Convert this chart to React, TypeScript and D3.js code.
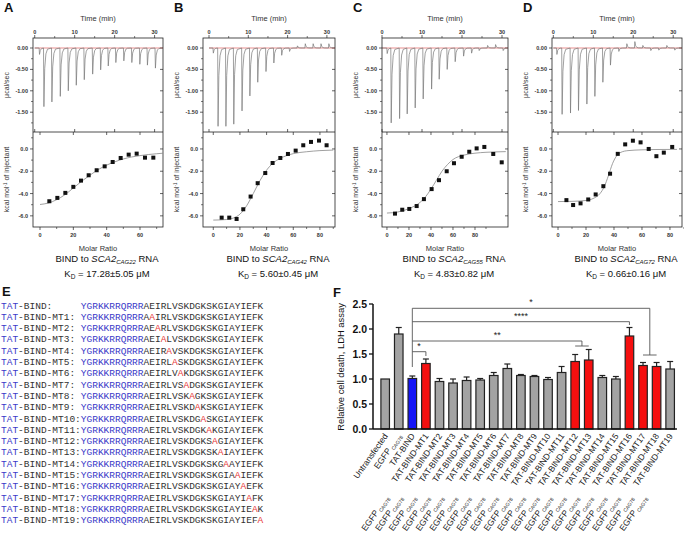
import React from 'react';
import * as d3 from 'd3';

const SANS = '"Liberation Sans", Arial, sans-serif';
const MONO = '"Liberation Mono", "DejaVu Sans Mono", monospace';

// ---------- ITC data (panels A-D) ----------
const panelLetters = ['A', 'B', 'C', 'D'];
const rnaNames = ['CAG22', 'CAG42', 'CAG55', 'CAG72'];
const kdValues = ['17.28±5.05', '5.60±0.45', '4.83±0.82', '0.66±0.16'];

const injTimesA = [1.1, 2.2, 4.2, 6.3, 8.3, 10.3, 12.3, 14.4, 16.4, 18.3, 20.2, 22.2, 24.2, 26.2, 28.1, 30.1];
const injHeatA = [-0.15, -1.37, -1.26, -1.13, -1.0, -0.87, -0.74, -0.61, -0.51, -0.42, -0.34, -0.3, -0.34, -0.38, -0.4, -0.47];
const injTimesB = [1.0, 2.2, 4.2, 6.2, 8.3, 10.3, 12.3, 14.4, 16.4, 18.4, 20.4, 22.4, 24.4, 26.4, 28.4, 30.4];
const injHeatB = [-0.12, -1.83, -1.83, -1.78, -1.47, -1.12, -0.8, -0.55, -0.35, -0.17, -0.08, 0.05, 0.1, 0.1, 0.1, 0.1];
const injTimesC = [1.2, 2.2, 4.3, 6.2, 8.2, 10.2, 12.3, 14.2, 16.2, 18.2, 20.3, 22.3, 24.2, 26.3, 28.3, 30.2];
const injHeatC = [-0.13, -1.75, -1.65, -1.54, -1.4, -1.19, -0.96, -0.73, -0.5, -0.32, -0.19, -0.12, -0.06, 0.06, 0.08, -0.06];
const injTimesD = [0.8, 2.1, 4.2, 6.2, 8.3, 10.3, 12.3, 14.2, 16.3, 18.3, 20.3, 22.3, 24.3, 26.3, 28.3, 30.3];
const injHeatD = [-0.15, -1.55, -1.52, -1.46, -1.31, -1.13, -0.8, -0.4, -0.08, 0.1, 0.15, 0.06, -0.06, -0.05, 0.06, -0.05];

const molarA = [5.6, 10.4, 15.2, 20.0, 24.6, 29.2, 34.0, 38.8, 43.6, 48.4, 53.2, 58, 63, 68];
const dhA = [-4.69, -4.39, -3.94, -3.4, -2.84, -2.36, -1.91, -1.56, -1.17, -0.81, -0.51, -0.42, -0.78, -0.78];
const molarB = [6.3, 12.0, 17.5, 22.5, 28.0, 33.3, 39.0, 44.5, 50.3, 56.0, 61.8, 67.5, 73.3, 79.3, 85];
const dhB = [-6.16, -6.16, -6.28, -5.41, -4.27, -3.07, -2.16, -1.26, -0.81, -0.45, -0.15, 0.33, 0.63, 0.75, 0.33];
const molarC = [7.3, 13.9, 20.3, 27, 33.6, 40.6, 47.3, 54.3, 60.9, 67.9, 74.8, 81.5, 88.5, 96.6, 104.3];
const dhC = [-5.8, -5.45, -5.38, -5.12, -4.5, -3.6, -2.8, -2.0, -1.28, -0.7, -0.25, 0.05, 0.18, -0.45, -1.2];
const molarD = [6.0, 10.8, 16.1, 21.6, 26.9, 32.4, 37.2, 42.7, 48, 53.5, 59, 64.8, 70.3, 75.6, 81.6];
const dhD = [-4.59, -5.03, -4.88, -4.53, -4.08, -3.34, -2.22, -0.44, 0.41, 0.74, 0.59, 0.0, -0.65, -0.33, 0.18];

const fitMolarA = [0, 5, 10, 15, 20, 25, 30, 35, 40, 45, 50, 55, 60, 65, 70, 74];
const fitDhA = [-4.98, -4.85, -4.55, -4.1, -3.5, -2.9, -2.35, -1.85, -1.45, -1.15, -0.9, -0.72, -0.6, -0.5, -0.43, -0.38];
const fitMolarB = [0, 10, 15, 20, 25, 30, 35, 40, 45, 50, 55, 60, 70, 80, 90];
const fitDhB = [-6.38, -6.33, -6.2, -5.85, -5.1, -4.0, -2.85, -1.9, -1.25, -0.85, -0.6, -0.42, -0.25, -0.15, -0.1];
const fitMolarC = [0, 10, 20, 30, 35, 40, 45, 50, 55, 60, 70, 80, 90, 100, 108];
const fitDhC = [-5.75, -5.65, -5.35, -4.8, -4.3, -3.6, -2.8, -2.0, -1.4, -0.95, -0.55, -0.38, -0.3, -0.26, -0.24];
const fitMolarD = [0, 10, 20, 25, 30, 33, 36, 39, 42, 45, 50, 60, 70, 85];
const fitDhD = [-4.72, -4.7, -4.62, -4.45, -4.0, -3.4, -2.4, -1.3, -0.6, -0.3, -0.15, -0.08, -0.05, -0.04];

const injTimes = [injTimesA, injTimesB, injTimesC, injTimesD];
const injHeats = [injHeatA, injHeatB, injHeatC, injHeatD];
const molars = [molarA, molarB, molarC, molarD];
const dhs = [dhA, dhB, dhC, dhD];
const fitMolars = [fitMolarA, fitMolarB, fitMolarC, fitMolarD];
const fitDhs = [fitDhA, fitDhB, fitDhC, fitDhD];

const timeTicks = [0, 10, 20, 30];
const powerTicks = [0, -0.5, -1.0, -1.5];
const powerTickLabels = ['0.00', '-0.50', '-1.00', '-1.50'];
const dhTicks = [0, -2, -4, -6];
const dhTickLabels = ['0.0', '-2.0', '-4.0', '-6.0'];
const molarTicksA = [0, 20, 40, 60];
const molarTicks = [0, 20, 40, 60, 80];

// ---------- Panel E sequences ----------
const seqNames = ['TAT-BIND:', 'TAT-BIND-MT1:', 'TAT-BIND-MT2:', 'TAT-BIND-MT3:', 'TAT-BIND-MT4:', 'TAT-BIND-MT5:', 'TAT-BIND-MT6:', 'TAT-BIND-MT7:', 'TAT-BIND-MT8:', 'TAT-BIND-MT9:', 'TAT-BIND-MT10:', 'TAT-BIND-MT11:', 'TAT-BIND-MT12:', 'TAT-BIND-MT13:', 'TAT-BIND-MT14:', 'TAT-BIND-MT15:', 'TAT-BIND-MT16:', 'TAT-BIND-MT17:', 'TAT-BIND-MT18:', 'TAT-BIND-MT19:'];
const tatSeq = 'YGRKKRRQRRR';
const bindSeq = 'AEIRLVSKDGKSKGIAYIEFK';
const mutIndex = [-1, 1, 2, 3, 4, 5, 6, 7, 8, 9, 10, 11, 12, 13, 14, 16, 17, 18, 19, 20];

// ---------- Panel F bars ----------
const fCats = ['Untransfected', 'EGFP', 'TAT-BIND', 'TAT-BIND-MT1', 'TAT-BIND-MT2', 'TAT-BIND-MT3', 'TAT-BIND-MT4', 'TAT-BIND-MT5', 'TAT-BIND-MT6', 'TAT-BIND-MT7', 'TAT-BIND-MT8', 'TAT-BIND-MT9', 'TAT-BIND-MT10', 'TAT-BIND-MT11', 'TAT-BIND-MT12', 'TAT-BIND-MT13', 'TAT-BIND-MT14', 'TAT-BIND-MT15', 'TAT-BIND-MT16', 'TAT-BIND-MT17', 'TAT-BIND-MT18', 'TAT-BIND-MT19'];
const fValues = [1.0, 1.9, 1.01, 1.31, 0.95, 0.92, 0.97, 0.98, 1.07, 1.21, 1.07, 1.05, 0.99, 1.13, 1.35, 1.38, 1.03, 1.0, 1.86, 1.27, 1.25, 1.2];
const fErrors = [0, 0.13, 0.05, 0.09, 0.06, 0.08, 0.07, 0.03, 0.06, 0.09, 0.02, 0.02, 0.04, 0.12, 0.14, 0.21, 0.04, 0.05, 0.17, 0.06, 0.08, 0.15];
const fGroups = ['g', 'g', 'b', 'r', 'g', 'g', 'g', 'g', 'g', 'g', 'g', 'g', 'g', 'g', 'r', 'r', 'g', 'g', 'r', 'r', 'r', 'g'];
const fTicks = [0, 0.5, 1.0, 1.5, 2.0, 2.5];
const fTickLabels = ['0.0', '0.5', '1.0', '1.5', '2.0', '2.5'];
// significance brackets: targets, bracket level, drop level, label
const sigTargets = [['TAT-BIND-MT1'], ['TAT-BIND-MT12', 'TAT-BIND-MT13'], ['TAT-BIND-MT16'], ['TAT-BIND-MT17', 'TAT-BIND-MT18']];
const sigLevels = [1.546, 1.76, 2.146, 2.414];
const sigDrops = [1.46, 1.66, 2.08, 1.48];
const sigLabels = ['*', '**', '****', '*'];

const LAYOUT = [
  { left: 33, right: 163, tDom: [-0.43, 32.1], mDom: [-4.2, 73.8] },
  { left: 203, right: 335, tDom: [-1.53, 32.06], mDom: [-7.7, 91.3] },
  { left: 382, right: 508, tDom: [0, 31.5], mDom: [-4.5, 110] },
  { left: 552, right: 682, tDom: [-0.33, 32.2], mDom: [-4.3, 88.6] },
];
const TOP0 = 38, MID = 132, BOT = 227;

function ITC({ i }: { i: number }) {
  const L = LAYOUT[i];
  const xT = d3.scaleLinear().domain(L.tDom).range([L.left, L.right]);
  const yT = d3.scaleLinear().domain([0.234, -1.963]).range([TOP0, MID]);
  const xM = d3.scaleLinear().domain(L.mDom).range([L.left, L.right]);
  const yM = d3.scaleLinear().domain([1.52, -7.0]).range([MID, BOT]);
  const tr: [number, number][] = [[Math.max(L.tDom[0], 0), 0]];
  injTimes[i].forEach((t, k) => {
    const d = injHeats[i][k];
    tr.push([t, 0], [t + 0.1, d], [t + 0.3, d * 0.35], [t + 0.6, d * 0.1], [t + 1.0, d * 0.02]);
  });
  tr.push([L.tDom[1] - 0.2, 0]);
  const line = d3.line<[number, number]>().x(d => xT(d[0])).y(d => yT(d[1]));
  const fitPts = fitMolars[i].map((m, k) => [m, fitDhs[i][k]] as [number, number]);
  const fitLine = d3.line<[number, number]>().x(d => xM(d[0])).y(d => yM(d[1])).curve(d3.curveMonotoneX);
  const mt = i === 0 ? molarTicksA : molarTicks;
  const cx = (L.left + L.right) / 2;
  const tickC = '#222';
  return (
    <g>
      <text x={L.left - 29} y={12} fontFamily={SANS} fontWeight="bold" fontSize={13} fill="#111">{panelLetters[i]}</text>
      <text x={cx} y={21} textAnchor="middle" fontFamily={SANS} fontSize={7.5} fill="#333">Time (min)</text>
      {timeTicks.map(t => (
        <g key={'tt' + t}>
          <line x1={xT(t)} x2={xT(t)} y1={TOP0} y2={TOP0 - 3} stroke={tickC} strokeWidth={0.7} />
          <line x1={xT(t)} x2={xT(t)} y1={MID} y2={MID - 3} stroke={tickC} strokeWidth={0.7} />
          <text x={xT(t)} y={34} textAnchor="middle" fontFamily={SANS} fontWeight="bold" fontSize={5.5} fill="#333">{t}</text>
        </g>
      ))}
      {[5, 15, 25].map(t => (
        <line key={'tm' + t} x1={xT(t)} x2={xT(t)} y1={TOP0} y2={TOP0 - 2} stroke={tickC} strokeWidth={0.6} />
      ))}
      {powerTicks.map((p, k) => (
        <g key={'pt' + k}>
          <line x1={L.left} x2={L.left - 3} y1={yT(p)} y2={yT(p)} stroke={tickC} strokeWidth={0.7} />
          <line x1={L.right} x2={L.right - 3} y1={yT(p)} y2={yT(p)} stroke={tickC} strokeWidth={0.7} />
          <text x={L.left - 5} y={yT(p) + 2} textAnchor="end" fontFamily={SANS} fontWeight="bold" fontSize={5.5} fill="#333">{powerTickLabels[k]}</text>
        </g>
      ))}
      {[-0.25, -0.75, -1.25, -1.75].map(p => (
        <line key={'pm' + p} x1={L.left} x2={L.left - 2} y1={yT(p)} y2={yT(p)} stroke={tickC} strokeWidth={0.6} />
      ))}
      <text transform={`translate(${L.left - 24},${(TOP0 + MID) / 2}) rotate(-90)`} textAnchor="middle" fontFamily={SANS} fontSize={7} fill="#333">μcal/sec</text>
      <line x1={xT(Math.max(L.tDom[0], 0))} x2={L.right} y1={yT(0)} y2={yT(0)} stroke="#e06060" strokeWidth={0.7} />
      <clipPath id={'clipT' + i}><rect x={L.left} y={TOP0} width={L.right - L.left} height={MID - TOP0} /></clipPath>
      <path d={line(tr) || ''} fill="none" stroke="#777" strokeWidth={0.7} clipPath={`url(#clipT${i})`} />
      <rect x={L.left} y={TOP0} width={L.right - L.left} height={BOT - TOP0} fill="none" stroke="#222" strokeWidth={0.8} />
      <line x1={L.left} x2={L.right} y1={MID} y2={MID} stroke="#222" strokeWidth={0.8} />
      {/* lower plot */}
      {dhTicks.map((v, k) => (
        <g key={'dt' + k}>
          <line x1={L.left} x2={L.left - 3} y1={yM(v)} y2={yM(v)} stroke={tickC} strokeWidth={0.7} />
          <line x1={L.right} x2={L.right - 3} y1={yM(v)} y2={yM(v)} stroke={tickC} strokeWidth={0.7} />
          <text x={L.left - 5} y={yM(v) + 2} textAnchor="end" fontFamily={SANS} fontWeight="bold" fontSize={5.5} fill="#333">{dhTickLabels[k]}</text>
        </g>
      ))}
      {[1, -1, -3, -5].map(v => (
        <line key={'dm' + v} x1={L.left} x2={L.left - 2} y1={yM(v)} y2={yM(v)} stroke={tickC} strokeWidth={0.6} />
      ))}
      {mt.map(m => (
        <g key={'mt' + m}>
          <line x1={xM(m)} x2={xM(m)} y1={BOT} y2={BOT + 3} stroke={tickC} strokeWidth={0.7} />
          <line x1={xM(m)} x2={xM(m)} y1={MID} y2={MID + 3} stroke={tickC} strokeWidth={0.7} />
          <text x={xM(m)} y={237} textAnchor="middle" fontFamily={SANS} fontWeight="bold" fontSize={5.5} fill="#333">{m}</text>
        </g>
      ))}
      {mt.map(m => (
        <line key={'mm' + m} x1={xM(m + 10)} x2={xM(m + 10)} y1={BOT} y2={BOT + 2} stroke={tickC} strokeWidth={0.6} />
      ))}
      <text transform={`translate(${L.left - 24},${(MID + BOT) / 2}) rotate(-90)`} textAnchor="middle" fontFamily={SANS} fontSize={7} fill="#333">
        kcal mol<tspan dy={-2.5} fontSize={4.5}>-1</tspan><tspan dy={2.5}> of injectant</tspan>
      </text>
      <clipPath id={'clipM' + i}><rect x={L.left} y={MID} width={L.right - L.left} height={BOT - MID} /></clipPath>
      <path d={fitLine(fitPts) || ''} fill="none" stroke="#888" strokeWidth={0.8} clipPath={`url(#clipM${i})`} />
      {molars[i].map((m, k) => (
        <rect key={'p' + k} x={xM(m) - 2} y={yM(dhs[i][k]) - 2} width={4} height={4} fill="#111" />
      ))}
      <text x={cx} y={251} textAnchor="middle" fontFamily={SANS} fontSize={7.5} fill="#333">Molar Ratio</text>
      <text x={cx + 9} y={262} textAnchor="middle" fontFamily={SANS} fontSize={9.5} fill="#111">
        BIND to <tspan fontStyle="italic">SCA2</tspan><tspan fontStyle="italic" fontSize={6} dy={2}>{rnaNames[i]}</tspan><tspan dy={-2}> RNA</tspan>
      </text>
      <text x={cx + 9} y={277} textAnchor="middle" fontFamily={SANS} fontSize={9.5} fill="#111">
        K<tspan fontSize={6.5} dy={2}>D</tspan><tspan dy={-2}> = {kdValues[i]} μM</tspan>
      </text>
    </g>
  );
}

function PanelE() {
  const fs = 9.5;
  const cw = fs * 0.6;
  const y0 = 308.5, step = 11.3;
  return (
    <g>
      <text x={2} y={296} fontFamily={SANS} fontWeight="bold" fontSize={13} fill="#111">E</text>
      {seqNames.map((n, r) => {
        const y = y0 + r * step;
        const chars = bindSeq.split('').map((c, k) => (k === mutIndex[r] ? 'A' : c));
        return (
          <g key={'row' + r} fontFamily={MONO} fontSize={fs}>
            <text x={1} y={y} fill="#3a3ac8">TAT<tspan fill="#333">{n.slice(3)}</tspan></text>
            <text x={1 + 14 * cw} y={y} fill="#3a3ac8">
              {tatSeq}
              {chars.map((c, k) => (
                <tspan key={k} fill={k === mutIndex[r] ? '#e83a3a' : '#333'}>{c}</tspan>
              ))}
            </text>
          </g>
        );
      })}
    </g>
  );
}

function PanelF() {
  const x0 = 378.4;
  const n = fCats.length;
  const x = d3.scaleBand<string>().domain(fCats).range([x0, x0 + n * 13.57]).paddingInner(0.37).paddingOuter(0.185);
  const y = d3.scaleLinear().domain([0, 2.5]).range([429, 304]);
  const bw = x.bandwidth();
  const cxOf = (c: string) => (x(c) as number) + bw / 2;
  const fill = (g: string) => (g === 'b' ? '#1515f5' : g === 'r' ? '#f50f0f' : '#a3a3a3');
  const leftX = cxOf('TAT-BIND');
  const angle = -55;
  return (
    <g>
      <text x={333} y={297} fontFamily={SANS} fontWeight="bold" fontSize={13} fill="#111">F</text>
      <text transform={`translate(344,367) rotate(-90)`} textAnchor="middle" fontFamily={SANS} fontSize={9.4} fill="#111">Relative cell death, LDH assay</text>
      {fCats.map((c, k) => {
        const cx = cxOf(c);
        const top = y(fValues[k]);
        return (
          <g key={c}>
            {fErrors[k] > 0 && (
              <g stroke="#222" strokeWidth={1.2}>
                <line x1={cx} x2={cx} y1={top} y2={y(fValues[k] + fErrors[k])} />
                <line x1={cx - 3} x2={cx + 3} y1={y(fValues[k] + fErrors[k])} y2={y(fValues[k] + fErrors[k])} />
              </g>
            )}
            <rect x={x(c)} y={top} width={bw} height={y(0) - top} fill={fill(fGroups[k])} stroke="#222" strokeWidth={1.2} />
          </g>
        );
      })}
      <line x1={373} x2={x0 + n * 13.57} y1={y(0)} y2={y(0)} stroke="#111" strokeWidth={1.5} />
      <line x1={373} x2={373} y1={y(0)} y2={y(2.5)} stroke="#111" strokeWidth={1.5} />
      {fTicks.map((t, k) => (
        <g key={'ft' + k}>
          <line x1={369} x2={373} y1={y(t)} y2={y(t)} stroke="#111" strokeWidth={1.3} />
          <text x={367} y={y(t) + 3.8} textAnchor="end" fontFamily={SANS} fontWeight="bold" fontSize={10.5} fill="#111">{fTickLabels[k]}</text>
        </g>
      ))}
      {/* brackets */}
      <line x1={leftX} x2={leftX} y1={y(sigLevels[3])} y2={y(1.24)} stroke="#555" strokeWidth={0.9} />
      {sigTargets.map((tg, k) => {
        const xs = tg.map(cxOf);
        const xr = d3.mean(xs) as number;
        const ly = y(sigLevels[k]);
        const dy = y(sigDrops[k]);
        return (
          <g key={'sig' + k} stroke="#555" strokeWidth={0.9} fill="none">
            <line x1={leftX} x2={xr} y1={ly} y2={ly} />
            <line x1={xr} x2={xr} y1={ly} y2={dy} />
            {xs.length > 1 && <line x1={xs[0]} x2={xs[1]} y1={dy} y2={dy} />}
            <text x={(leftX + xr) / 2} y={ly - 3} textAnchor="middle" fontFamily={SANS} fontSize={9} fill="#222" stroke="none">{sigLabels[k]}</text>
          </g>
        );
      })}
      {/* x labels */}
      {fCats.map((c, k) => {
        const cx = cxOf(c);
        const egfp = (
          <>
            EGFP<tspan fontSize={5} dy={2}> CAG78</tspan>
          </>
        );
        return (
          <g key={'lab' + k} fontFamily={SANS} fontSize={8.5} fill="#222">
            <text transform={`translate(${cx + 3},${436}) rotate(${angle})`} textAnchor="end">
              {k === 1 ? egfp : c}
            </text>
            {k >= 2 && (
              <text transform={`translate(${cx + 3 - 26},${436 + 62}) rotate(${angle})`} textAnchor="end">{egfp}</text>
            )}
          </g>
        );
      })}
    </g>
  );
}

export default function App() {
  return (
    <svg width={684} height={537} style={{ position: 'absolute', left: 0, top: 0, background: '#fff' }}>
      <rect x={0} y={0} width={684} height={537} fill="#fff" />
      {[0, 1, 2, 3].map(i => <ITC key={i} i={i} />)}
      <PanelE />
      <PanelF />
    </svg>
  );
}
